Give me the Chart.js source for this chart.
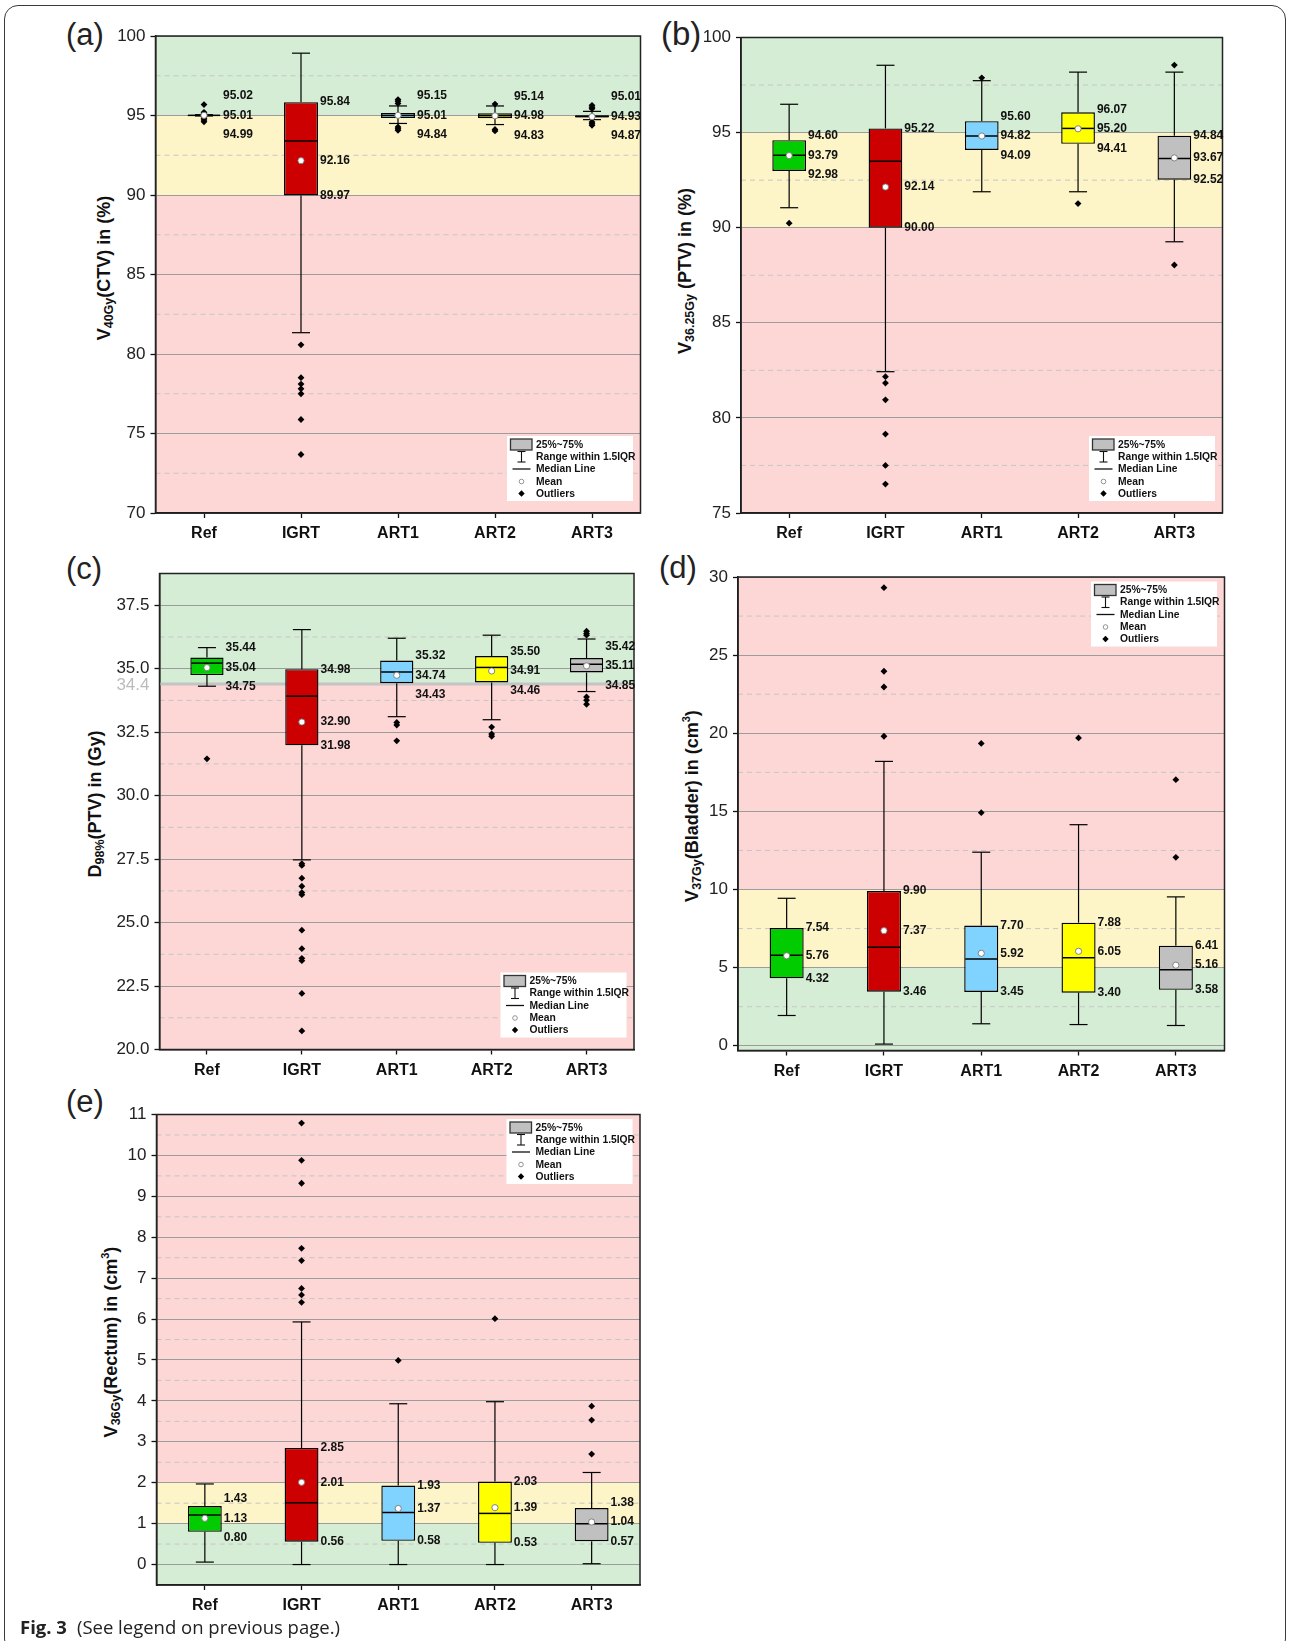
<!DOCTYPE html>
<html>
<head>
<meta charset="utf-8">
<script src="https://cdn.jsdelivr.net/npm/chart.js@4.4.1/dist/chart.umd.min.js"></script>
<style>
  body { margin: 0; background: #fff; }
  #page { position: relative; width: 1290px; height: 1641px; overflow: hidden; font-family: "Liberation Sans", Arial, sans-serif; }
  .frame { position: absolute; left: 4px; top: 5px; width: 1282px; height: 1648px; border: 1.3px solid #3a3a3a; border-radius: 14px; box-sizing: border-box; }
  canvas { position: absolute; }
  .tag { position: absolute; font-size: 31px; line-height: 1; color: #222; white-space: nowrap; }
  .ytitle { position: absolute; font-weight: bold; font-size: 18px; line-height: 1; white-space: nowrap; color: #111;
            transform: translate(-50%, -50%) rotate(-90deg); }
  .ytitle sub { font-size: 12.5px; vertical-align: -3px; }
  .ytitle sup { font-size: 11px; vertical-align: 8px; }
  .caption { position: absolute; left: 20px; top: 1618px; font-family: "Open Sans", "Noto Sans", sans-serif; font-size: 18.5px; line-height: 1; color: #222; white-space: nowrap; }
  .caption b { font-weight: bold; margin-right: 10px; }
</style>
</head>
<body>
<div id="page">
  <div class="frame"></div>

  <div class="tag" style="left:66px;top:19px">(a)</div>
  <div class="tag" style="left:661px;top:17px;font-size:33px">(b)</div>
  <div class="tag" style="left:66px;top:553px">(c)</div>
  <div class="tag" style="left:659px;top:552px">(d)</div>
  <div class="tag" style="left:66px;top:1086px">(e)</div>

  <div class="ytitle" style="left:105px;top:268px">V<sub>40Gy</sub>(CTV) in (%)</div>
  <div class="ytitle" style="left:686px;top:271px">V<sub>36.25Gy</sub> (PTV) in (%)</div>
  <div class="ytitle" style="left:96px;top:804px">D<sub>98%</sub>(PTV) in (Gy)</div>
  <div class="ytitle" style="left:692px;top:806px">V<sub>37Gy</sub>(Bladder) in (cm<sup>3</sup>)</div>
  <div class="ytitle" style="left:111px;top:1342px">V<sub>36Gy</sub>(Rectum) in (cm<sup>3</sup>)</div>

  <canvas id="chartA"></canvas>
  <canvas id="chartB"></canvas>
  <canvas id="chartC"></canvas>
  <canvas id="chartD"></canvas>
  <canvas id="chartE"></canvas>

  <div class="caption"><b>Fig. 3</b>(See legend on previous page.)</div>
</div>

<script>
// ---------- categories ----------
const groups = ['Ref', 'IGRT', 'ART1', 'ART2', 'ART3'];

// ---------- (a) V40Gy(CTV) in % ----------
const ctvQ1          = [94.99, 89.97, 94.84, 94.83, 94.87];
const ctvMedian      = [95.01, 93.40, 95.00, 94.99, 94.94];
const ctvQ3          = [95.02, 95.84, 95.15, 95.14, 95.01];
const ctvMean        = [95.01, 92.16, 95.01, 94.98, 94.93];
const ctvWhiskerLow  = [94.97, 81.34, 94.50, 94.43, 94.74];
const ctvWhiskerHigh = [95.05, 98.92, 95.60, 95.60, 95.26];
const ctvOutliers = [
  [95.69, 95.20, 95.12, 95.06, 94.95, 94.90, 94.82, 94.72, 94.60],
  [80.58, 78.51, 78.11, 77.81, 77.50, 75.88, 73.68],
  [96.00, 95.90, 95.76, 94.28, 94.16, 94.07],
  [95.72, 94.12, 94.03],
  [95.64, 95.52, 95.43, 94.59, 94.48, 94.38]
];
const ctvTicks = [70, 75, 80, 85, 90, 95, 100];

// ---------- (b) V36.25Gy(PTV) in % ----------
const ptvQ1          = [92.98, 90.00, 94.09, 94.41, 92.52];
const ptvMedian      = [93.81, 93.49, 94.82, 95.22, 93.64];
const ptvQ3          = [94.60, 95.22, 95.60, 96.07, 94.84];
const ptvMean        = [93.79, 92.14, 94.82, 95.20, 93.67];
const ptvWhiskerLow  = [91.05, 82.43, 91.89, 91.89, 89.26];
const ptvWhiskerHigh = [96.49, 98.54, 97.73, 98.18, 98.18];
const ptvOutliers = [
  [90.24],
  [82.17, 81.83, 80.95, 79.15, 77.50, 76.52],
  [97.88],
  [91.27],
  [98.55, 88.04]
];
const ptvTicks = [75, 80, 85, 90, 95, 100];

// ---------- (c) D98%(PTV) in Gy ----------
const d98Q1          = [34.75, 31.98, 34.43, 34.46, 34.85];
const d98Median      = [35.22, 33.92, 34.87, 35.05, 35.18];
const d98Q3          = [35.44, 34.98, 35.32, 35.50, 35.42];
const d98Mean        = [35.04, 32.90, 34.74, 34.91, 35.11];
const d98WhiskerLow  = [34.31, 27.47, 33.11, 32.99, 34.10];
const d98WhiskerHigh = [35.83, 36.54, 36.20, 36.32, 36.17];
const d98Outliers = [
  [31.45],
  [27.32, 27.25, 26.75, 26.43, 26.18, 26.10, 24.70, 23.97, 23.59, 23.50, 22.21, 20.73],
  [32.88, 32.78, 32.16],
  [32.70, 32.43, 32.34],
  [36.48, 36.39, 36.32, 33.89, 33.76, 33.60]
];
const d98Ticks = [20, 22.5, 25, 27.5, 30, 32.5, 35, 37.5];
const d98Limit = 34.4;

// ---------- (d) V37Gy(Bladder) in cm3 ----------
const bladderQ1          = [4.32, 3.46, 3.45, 3.40, 3.58];
const bladderMedian      = [5.79, 6.30, 5.55, 5.64, 4.86];
const bladderQ3          = [7.54, 9.90, 7.70, 7.88, 6.41];
const bladderMean        = [5.76, 7.37, 5.92, 6.05, 5.16];
const bladderWhiskerLow  = [1.94, 0.11, 1.41, 1.36, 1.30];
const bladderWhiskerHigh = [9.44, 18.20, 12.39, 14.15, 9.53];
const bladderOutliers = [
  [],
  [29.32, 23.97, 22.96, 19.81],
  [19.35, 14.92],
  [19.70],
  [17.03, 12.06]
];
const bladderTicks = [0, 5, 10, 15, 20, 25, 30];

// ---------- (e) V36Gy(Rectum) in cm3 ----------
const rectumQ1          = [0.80, 0.56, 0.58, 0.53, 0.57];
const rectumMedian      = [1.21, 1.51, 1.27, 1.25, 1.00];
const rectumQ3          = [1.43, 2.85, 1.93, 2.03, 1.38];
const rectumMean        = [1.13, 2.01, 1.37, 1.39, 1.04];
const rectumWhiskerLow  = [0.06, 0.00, 0.00, 0.00, 0.02];
const rectumWhiskerHigh = [1.97, 5.93, 3.93, 3.98, 2.25];
const rectumOutliers = [
  [],
  [10.79, 9.88, 9.32, 7.73, 7.43, 6.75, 6.59, 6.41],
  [4.99],
  [6.01],
  [3.87, 3.53, 2.70]
];
const rectumTicks = [0, 1, 2, 3, 4, 5, 6, 7, 8, 9, 10, 11];

// ---------- styling ----------
const FONT = '"Liberation Sans", Arial, sans-serif';
const boxColors = ['#00cc00', '#cc0000', '#80d2ff', '#ffff00', '#c0c0c0'];
const GREEN = '#d5edd5', YELLOW = '#fdf5c8', RED = '#fdd6d6';
const Y_AXIS_W = 62, X_AXIS_H = 40;

const panels = [
  { el: 'chartA', canvas: [0, 0, 650, 560], plot: [155.5, 36, 640.5, 513],
    min: 70, max: 100, ticks: ctvTicks, fmt: v => String(v),
    bands: [[70, 90, RED], [90, 95, YELLOW], [95, 100, GREEN]],
    q1: ctvQ1, med: ctvMedian, q3: ctvQ3, mean: ctvMean, lo: ctvWhiskerLow, hi: ctvWhiskerHigh, out: ctvOutliers,
    legend: 'bottom' },
  { el: 'chartB', canvas: [650, 0, 640, 560], plot: [741, 37.5, 1222.5, 513],
    min: 75, max: 100, ticks: ptvTicks, fmt: v => String(v),
    bands: [[75, 90, RED], [90, 95, YELLOW], [95, 100, GREEN]],
    q1: ptvQ1, med: ptvMedian, q3: ptvQ3, mean: ptvMean, lo: ptvWhiskerLow, hi: ptvWhiskerHigh, out: ptvOutliers,
    legend: 'bottom' },
  { el: 'chartC', canvas: [0, 545, 650, 540], plot: [159.5, 573.5, 634, 1049.5],
    min: 20, max: 38.75, ticks: d98Ticks, fmt: v => v.toFixed(1),
    bands: [[20, d98Limit, RED], [d98Limit, 38.75, GREEN]], limit: d98Limit,
    q1: d98Q1, med: d98Median, q3: d98Q3, mean: d98Mean, lo: d98WhiskerLow, hi: d98WhiskerHigh, out: d98Outliers,
    legend: 'bottom' },
  { el: 'chartD', canvas: [650, 545, 640, 540], plot: [738, 577, 1224.5, 1050.5],
    min: -0.3, max: 30, ticks: bladderTicks, fmt: v => String(v),
    bands: [[-0.3, 5, GREEN], [5, 10, YELLOW], [10, 30, RED]],
    q1: bladderQ1, med: bladderMedian, q3: bladderQ3, mean: bladderMean, lo: bladderWhiskerLow, hi: bladderWhiskerHigh, out: bladderOutliers,
    legend: 'top' },
  { el: 'chartE', canvas: [0, 1085, 650, 530], plot: [156.5, 1114.5, 640, 1585],
    min: -0.5, max: 11, ticks: rectumTicks, fmt: v => String(v),
    bands: [[-0.5, 1, GREEN], [1, 2, YELLOW], [2, 11, RED]],
    q1: rectumQ1, med: rectumMedian, q3: rectumQ3, mean: rectumMean, lo: rectumWhiskerLow, hi: rectumWhiskerHigh, out: rectumOutliers,
    legend: 'top' }
];

function line(ctx, x1, y1, x2, y2) {
  ctx.beginPath(); ctx.moveTo(x1, y1); ctx.lineTo(x2, y2); ctx.stroke();
}

// legend box: box / whisker / median / mean / outlier keys
function drawKey(ctx, area, where) {
  const w = 126, h = 65;
  const x = area.right - 7.5 - w;
  const top = where === 'top' ? area.top + 4.5 : area.bottom - 12 - h;
  ctx.save();
  ctx.fillStyle = '#fff';
  ctx.fillRect(x, top, w, h);
  const rows = [8.5, 20.5, 33, 45.5, 57.5];
  const cx = x + 14.5;
  // 25%~75% swatch
  ctx.fillStyle = '#c0c0c0'; ctx.strokeStyle = '#333'; ctx.lineWidth = 1.3;
  ctx.fillRect(x + 3.5, top + 3, 21.5, 11); ctx.strokeRect(x + 3.5, top + 3, 21.5, 11);
  // whisker icon
  ctx.strokeStyle = '#111'; ctx.lineWidth = 1.1;
  line(ctx, cx, top + rows[1] - 5, cx, top + rows[1] + 5.5);
  line(ctx, cx - 4, top + rows[1] - 5, cx + 4, top + rows[1] - 5);
  line(ctx, cx - 4, top + rows[1] + 5.5, cx + 4, top + rows[1] + 5.5);
  // median
  ctx.lineWidth = 1.3;
  line(ctx, x + 5.5, top + rows[2], x + 23.5, top + rows[2]);
  // mean
  ctx.beginPath(); ctx.arc(cx, top + rows[3], 2.3, 0, Math.PI * 2);
  ctx.fillStyle = '#fff'; ctx.fill(); ctx.strokeStyle = '#888'; ctx.lineWidth = 0.9; ctx.stroke();
  // outlier diamond
  ctx.fillStyle = '#000';
  ctx.beginPath();
  ctx.moveTo(cx, top + rows[4] - 3.2); ctx.lineTo(cx + 3.2, top + rows[4]);
  ctx.lineTo(cx, top + rows[4] + 3.2); ctx.lineTo(cx - 3.2, top + rows[4]); ctx.closePath(); ctx.fill();
  // texts
  ctx.font = 'bold 10.3px ' + FONT; ctx.fillStyle = '#111';
  ctx.textAlign = 'left'; ctx.textBaseline = 'middle';
  const texts = ['25%~75%', 'Range within 1.5IQR', 'Median Line', 'Mean', 'Outliers'];
  texts.forEach((t, i) => ctx.fillText(t, x + 29, top + rows[i] + 0.5));
  ctx.restore();
}

function boxPlugin(p) {
  return {
    id: 'boxPlot',
    beforeDraw(chart) {
      const { ctx, chartArea: a, scales: { y } } = chart;
      ctx.save();
      p.bands.forEach(([from, to, color]) => {
        const y1 = y.getPixelForValue(to), y2 = y.getPixelForValue(from);
        ctx.fillStyle = color;
        ctx.fillRect(a.left, y1, a.right - a.left, y2 - y1);
      });
      // dashed half-step grid lines
      ctx.strokeStyle = '#c6c6c6'; ctx.lineWidth = 1; ctx.setLineDash([5, 4]);
      for (let i = 0; i < p.ticks.length - 1; i++) {
        const py = y.getPixelForValue((p.ticks[i] + p.ticks[i + 1]) / 2);
        line(ctx, a.left, py, a.right, py);
      }
      ctx.restore();
    },
    beforeDatasetsDraw(chart) {
      if (p.limit === undefined) return;
      const { ctx, chartArea: a, scales: { y } } = chart;
      const py = y.getPixelForValue(p.limit);
      ctx.save();
      ctx.strokeStyle = '#c4c4c4'; ctx.lineWidth = 3;
      line(ctx, a.left, py, a.right, py);
      ctx.restore();
    },
    afterDatasetDraw(chart, args) {
      if (args.index !== 0) return;
      const { ctx, scales: { y } } = chart;
      const bars = chart.getDatasetMeta(0).data;
      ctx.save();
      ctx.strokeStyle = '#000';
      bars.forEach((bar, i) => {
        const x = bar.x, half = bar.width / 2, cap = 9;
        const yQ1 = y.getPixelForValue(p.q1[i]), yQ3 = y.getPixelForValue(p.q3[i]);
        const yLo = y.getPixelForValue(p.lo[i]), yHi = y.getPixelForValue(p.hi[i]);
        ctx.lineWidth = 1.2;
        if (yHi < yQ3) { line(ctx, x, yQ3, x, yHi); line(ctx, x - cap, yHi, x + cap, yHi); }
        if (yLo > yQ1) { line(ctx, x, yQ1, x, yLo); line(ctx, x - cap, yLo, x + cap, yLo); }
        ctx.lineWidth = 1.5;
        const yMed = y.getPixelForValue(p.med[i]);
        line(ctx, x - half + 1, yMed, x + half - 1, yMed);
      });
      ctx.restore();
    },
    afterDraw(chart) {
      const { ctx, chartArea: a, scales: { y } } = chart;
      ctx.save();
      // plot frame
      ctx.strokeStyle = '#222'; ctx.lineWidth = 1.5;
      ctx.strokeRect(a.left, a.top, a.right - a.left, a.bottom - a.top);
      // threshold label
      if (p.limit !== undefined) {
        ctx.font = '17px ' + FONT; ctx.fillStyle = '#bcbcbc';
        ctx.textAlign = 'right'; ctx.textBaseline = 'middle';
        ctx.fillText(String(p.limit), a.left - 10, y.getPixelForValue(p.limit) + 1);
      }
      // Q3 / mean / Q1 value labels
      ctx.font = 'bold 12px ' + FONT; ctx.fillStyle = '#111';
      ctx.textAlign = 'left'; ctx.textBaseline = 'middle';
      const gap = 19.5;
      chart.getDatasetMeta(0).data.forEach((bar, i) => {
        const lx = bar.x + bar.width / 2 + 2;
        const ym = y.getPixelForValue(p.mean[i]);
        const yt = Math.min(y.getPixelForValue(p.q3[i]), ym - gap);
        const yb = Math.max(y.getPixelForValue(p.q1[i]), ym + gap);
        ctx.fillText(p.q3[i].toFixed(2), lx, yt);
        ctx.fillText(p.mean[i].toFixed(2), lx, ym);
        ctx.fillText(p.q1[i].toFixed(2), lx, yb);
      });
      ctx.restore();
      drawKey(ctx, a, p.legend);
    }
  };
}

panels.forEach(p => {
  const [cx, cy, cw, ch] = p.canvas;
  const [L, T, R, B] = p.plot;
  const cv = document.getElementById(p.el);
  cv.width = cw; cv.height = ch;
  cv.style.left = cx + 'px'; cv.style.top = cy + 'px';
  cv.style.width = cw + 'px'; cv.style.height = ch + 'px';

  const outlierPoints = [];
  p.out.forEach((vals, i) => vals.forEach(v => outlierPoints.push({ x: groups[i], y: v })));

  new Chart(cv.getContext('2d'), {
    type: 'bar',
    data: {
      labels: groups,
      datasets: [
        { type: 'bar', label: '25%~75%', data: p.q1.map((v, i) => [v, p.q3[i]]),
          backgroundColor: boxColors, borderColor: '#000', borderWidth: 1.4, borderSkipped: false,
          barPercentage: 0.35, categoryPercentage: 1, order: 3 },
        { type: 'line', label: 'Outliers', data: outlierPoints, showLine: false,
          pointStyle: 'rectRot', pointRadius: 3.4, pointBackgroundColor: '#000', pointBorderWidth: 0, order: 2 },
        { type: 'line', label: 'Mean', data: p.mean, showLine: false,
          pointStyle: 'circle', pointRadius: 3.1, pointBackgroundColor: '#fff',
          pointBorderColor: '#777', pointBorderWidth: 0.9, order: 1 }
      ]
    },
    options: {
      responsive: false, animation: false, devicePixelRatio: 1, events: [],
      layout: { padding: { left: L - cx - Y_AXIS_W, top: T - cy, right: cx + cw - R, bottom: cy + ch - B - X_AXIS_H } },
      plugins: { legend: { display: false }, tooltip: { enabled: false } },
      scales: {
        x: {
          type: 'category', offset: true,
          afterFit: s => { s.height = X_AXIS_H; },
          grid: { display: true, drawOnChartArea: false, offset: false, drawTicks: true, tickLength: 5, tickColor: '#111', tickWidth: 1.3 },
          border: { display: true, color: '#111', width: 1.5 },
          ticks: { font: { family: FONT, size: 16, weight: 'bold' }, color: '#111', padding: 6 }
        },
        y: {
          type: 'linear', min: p.min, max: p.max,
          afterBuildTicks: s => { s.ticks = p.ticks.map(v => ({ value: v })); },
          afterFit: s => { s.width = Y_AXIS_W; },
          grid: { color: '#9c9c9c', lineWidth: 1, drawTicks: true, tickLength: 5, tickColor: '#111', tickWidth: 1.3 },
          border: { display: true, color: '#111', width: 1.5 },
          ticks: { callback: v => p.fmt(v), font: { family: FONT, size: 17 }, color: '#222', padding: 5 }
        }
      }
    },
    plugins: [boxPlugin(p)]
  });
});
</script>
</body>
</html>
